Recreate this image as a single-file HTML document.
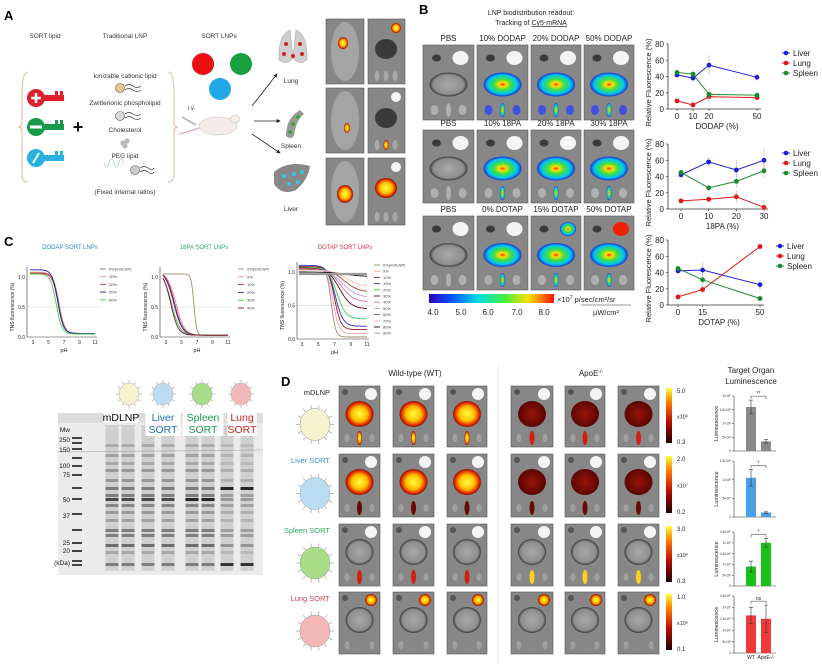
<!DOCTYPE html>
<html><head><meta charset="utf-8"><style>
body{margin:0;background:#fff}
svg{display:block;font-family:"Liberation Sans",Arial,sans-serif}
</style></head><body>
<svg id="fig" width="822" height="664" viewBox="0 0 822 664" xmlns="http://www.w3.org/2000/svg">
<defs>
<radialGradient id="rainbow" cx="50%" cy="50%" r="50%"><stop offset="0" stop-color="#ff2a00"/><stop offset="0.18" stop-color="#ffe000"/><stop offset="0.45" stop-color="#40e040"/><stop offset="0.78" stop-color="#00c8f0"/><stop offset="1" stop-color="#2030d0"/></radialGradient>
<radialGradient id="hot" cx="50%" cy="50%" r="50%"><stop offset="0" stop-color="#ffff40"/><stop offset="0.55" stop-color="#ffc000"/><stop offset="0.85" stop-color="#e83000"/><stop offset="1" stop-color="#801000"/></radialGradient>
<radialGradient id="dark" cx="50%" cy="50%" r="50%"><stop offset="0" stop-color="#9a1408"/><stop offset="1" stop-color="#5a0604"/></radialGradient>
<radialGradient id="grayorg" cx="50%" cy="50%" r="50%"><stop offset="0" stop-color="#a8a8a8"/><stop offset="0.8" stop-color="#8f8f8f"/><stop offset="1" stop-color="#3a3a3a"/></radialGradient>
<linearGradient id="cbar" x1="0" x2="1"><stop offset="0" stop-color="#3000c0"/><stop offset="0.2" stop-color="#0060ff"/><stop offset="0.4" stop-color="#00e0e0"/><stop offset="0.6" stop-color="#40f040"/><stop offset="0.8" stop-color="#ffe000"/><stop offset="1" stop-color="#ff1000"/></linearGradient>
<linearGradient id="hotbar" x1="0" y1="1" x2="0" y2="0"><stop offset="0" stop-color="#200000"/><stop offset="0.4" stop-color="#c01000"/><stop offset="0.75" stop-color="#ff8000"/><stop offset="1" stop-color="#ffff40"/></linearGradient>
<marker id="arr" viewBox="0 0 6 6" refX="5" refY="3" markerWidth="5" markerHeight="5" orient="auto"><path d="M0,0L6,3L0,6z" fill="#222"/></marker>
</defs>

<!-- Panel A -->
<g font-size="6.5" fill="#333">
<text x="4" y="20" font-size="13" font-weight="bold" fill="#000">A</text>
<text x="45" y="38" text-anchor="middle">SORT lipid</text>
<text x="125" y="38" text-anchor="middle">Traditional LNP</text>
<text x="219" y="38" text-anchor="middle">SORT LNPs</text>
<path d="M28,72 Q22,72 22,95 L22,122 Q22,127 18,127 Q22,127 22,132 L22,175 Q22,182 28,182" fill="none" stroke="#e0b890" stroke-width="1"/>
<path d="M168,72 Q174,72 174,95 L174,122 Q174,127 178,127 Q174,127 174,132 L174,175 Q174,182 168,182" fill="none" stroke="#e0b890" stroke-width="1"/>
<g><circle cx="36" cy="98" r="9" fill="#e0202a"/><rect x="44" y="95" width="20" height="6" fill="#e0202a"/><rect x="55" y="91" width="3" height="5" fill="#e0202a"/><rect x="60" y="91" width="3" height="5" fill="#e0202a"/><path d="M31,98h10M36,93v10" stroke="#fff" stroke-width="2.5"/></g>
<g><circle cx="36" cy="127" r="9" fill="#1a9a4a"/><rect x="44" y="124" width="20" height="6" fill="#1a9a4a"/><rect x="55" y="120" width="3" height="5" fill="#1a9a4a"/><rect x="60" y="120" width="3" height="5" fill="#1a9a4a"/><path d="M30,127h12" stroke="#fff" stroke-width="3"/></g>
<g><circle cx="36" cy="158" r="9" fill="#27b0e0"/><rect x="44" y="155" width="20" height="6" fill="#27b0e0"/><rect x="55" y="151" width="3" height="5" fill="#27b0e0"/><rect x="60" y="151" width="3" height="5" fill="#27b0e0"/><path d="M33,163l6,-10" stroke="#fff" stroke-width="2"/></g>
<text x="78" y="133" font-size="18" font-weight="bold" fill="#111" text-anchor="middle">+</text>
<text x="125" y="78" text-anchor="middle">Ionizable cationic lipid</text>
<g><circle cx="120" cy="88" r="4.5" fill="#f4c090" stroke="#555" stroke-width="0.6"/><path d="M125,86 q4,-3 8,0 t8,0 M125,90 q4,-3 8,0 t8,0" fill="none" stroke="#333" stroke-width="0.7"/></g>
<text x="125" y="105" text-anchor="middle">Zwitterionic phospholipid</text>
<g><circle cx="120" cy="116" r="4.5" fill="#d8d8d8" stroke="#555" stroke-width="0.6"/><path d="M125,114 q4,-3 8,0 t8,0 M125,118 q4,-3 8,0 t8,0" fill="none" stroke="#333" stroke-width="0.7"/></g>
<text x="125" y="132" text-anchor="middle">Cholesterol</text>
<g><circle cx="123" cy="143" r="2.6" fill="#bbb"/><circle cx="127" cy="141" r="2.6" fill="#bbb"/><circle cx="125" cy="146" r="2.6" fill="#bbb"/></g>
<text x="125" y="158" text-anchor="middle">PEG lipid</text>
<g><path d="M104,163 q3,8 5,0 t5,0 t5,0 t5,0" fill="none" stroke="#9cd" stroke-width="0.8"/><circle cx="135" cy="170" r="4.5" fill="#ccc" stroke="#555" stroke-width="0.6"/><path d="M140,168 q4,-3 8,0 t6,0 M140,172 q4,-3 8,0 t6,0" fill="none" stroke="#333" stroke-width="0.7"/></g>
<text x="125" y="194" text-anchor="middle">(Fixed internal ratios)</text>
<circle cx="203" cy="64" r="11" fill="#e81010"/>
<circle cx="241" cy="64" r="11" fill="#18a040"/>
<circle cx="220" cy="89" r="11" fill="#20a8e8"/>
<text x="188" y="110" font-size="6">i.v.</text>
<g><ellipse cx="218" cy="126" rx="19" ry="9" fill="#f3ece8" stroke="#bbb" stroke-width="0.5"/><ellipse cx="235" cy="119" rx="5" ry="4" fill="#f3ece8" stroke="#bbb" stroke-width="0.5"/><path d="M199,128 q-10,4 -20,6" stroke="#d9b" fill="none"/><path d="M182,117 l14,8" stroke="#aaa" stroke-width="1.5"/></g>
<path d="M252,106 L277,74" stroke="#222" stroke-width="0.8" marker-end="url(#arr)"/>
<path d="M254,121 L280,121" stroke="#222" stroke-width="0.8" marker-end="url(#arr)"/>
<path d="M252,134 L280,153" stroke="#222" stroke-width="0.8" marker-end="url(#arr)"/>
<g><path d="M290,30 q-12,5 -11,30 q8,6 14,-2 z M296,30 q12,5 11,30 q-8,6 -14,-2 z" fill="#cfcfcf" stroke="#999" stroke-width="0.5"/><circle cx="286" cy="44" r="2" fill="#d02020"/><circle cx="284" cy="54" r="2" fill="#d02020"/><circle cx="300" cy="44" r="2" fill="#d02020"/><circle cx="302" cy="54" r="2" fill="#d02020"/><circle cx="293" cy="56" r="2" fill="#d02020"/></g>
<text x="291" y="83" text-anchor="middle">Lung</text>
<g><path d="M300,110 q-14,8 -14,26 q4,4 8,0 q2,-16 10,-22 z" fill="#999"/><circle cx="298" cy="117" r="1.8" fill="#2a2"/><circle cx="293" cy="124" r="1.8" fill="#2a2"/><circle cx="290" cy="132" r="1.8" fill="#2a2"/></g>
<text x="291" y="148" text-anchor="middle">Spleen</text>
<g><path d="M274,172 q14,-12 36,-6 q-2,14 -14,24 q-14,6 -22,-6 z" fill="#888"/><circle cx="284" cy="176" r="2" fill="#3cd"/><circle cx="294" cy="174" r="2" fill="#3cd"/><circle cx="302" cy="172" r="2" fill="#3cd"/><circle cx="289" cy="184" r="2" fill="#3cd"/><circle cx="298" cy="182" r="2" fill="#3cd"/></g>
<text x="291" y="211" text-anchor="middle">Liver</text>
</g>
<g id="aimgs"></g>

<!-- Panel B -->
<g>
<text x="419" y="14" font-size="13" font-weight="bold">B</text>
<text x="531" y="15" font-size="7" text-anchor="middle" fill="#222">LNP biodistribution readout:</text>
<text x="531" y="25" font-size="7" text-anchor="middle" fill="#222">Tracking of <tspan text-decoration="underline">Cy5-mRNA</tspan></text>
<rect x="429" y="294" width="125" height="9" fill="url(#cbar)"/>
<g font-size="8" fill="#222" text-anchor="middle"><text x="433" y="315">4.0</text><text x="461" y="315">5.0</text><text x="488" y="315">6.0</text><text x="517" y="315">7.0</text><text x="544" y="315">8.0</text></g>
<text x="557" y="302" font-size="7.5" fill="#222">×10<tspan font-size="5" dy="-3">7</tspan><tspan dy="3"> p/sec/cm²/sr</tspan></text>
<line x1="581" y1="305" x2="631" y2="305" stroke="#333" stroke-width="0.6"/>
<text x="606" y="315" font-size="7.5" text-anchor="middle" fill="#222">µW/cm²</text>
</g>
<g id="bimgs"></g>
<g id="bcharts"></g>

<!-- Panel C -->
<g>
<text x="4" y="246" font-size="13" font-weight="bold">C</text>
<text x="70" y="249" font-size="6" text-anchor="middle" fill="#2e86c8">DODAP SORT LNPs</text>
<text x="204" y="249" font-size="6" text-anchor="middle" fill="#2aa860">18PA SORT LNPs</text>
<text x="345" y="249" font-size="6" text-anchor="middle" fill="#e03040">DOTAP SORT LNPs</text>
</g>
<g id="ccharts"></g>

<!-- Gel -->
<g id="gel"></g>

<!-- Panel D -->
<g>
<text x="281" y="386" font-size="13" font-weight="bold">D</text>
<text x="415" y="376" font-size="8" text-anchor="middle" fill="#222">Wild-type (WT)</text>
<text x="591" y="376" font-size="8" text-anchor="middle" fill="#222">ApoE<tspan font-size="5" dy="-3">-/-</tspan></text>
<line x1="498" y1="365" x2="498" y2="664" stroke="#e4e4e4" stroke-width="1"/>
<text x="751" y="373" font-size="8" text-anchor="middle" fill="#222">Target Organ</text>
<text x="751" y="384" font-size="8" text-anchor="middle" fill="#222">Luminescence</text>
</g>
<g id="dimgs"></g>
<g id="dbars"></g>
</svg>
<script>
// ===== Panel B line-chart data =====
const dodapX = [0, 10, 20, 50];
const dodapLiver = [42, 38, 54, 39];
const dodapLung = [10, 5, 15, 14];
const dodapSpleen = [45, 43, 18, 17];
const dodapErr = [3, 3, 12, 4];
const pa18X = [0, 10, 20, 30];
const pa18Liver = [42, 58, 48, 60];
const pa18Lung = [10, 12, 15, 2];
const pa18Spleen = [45, 26, 34, 47];
const pa18Err = [3, 6, 12, 15];
const dotapX = [0, 15, 50];
const dotapLiver = [42, 43, 25];
const dotapLung = [10, 19, 72];
const dotapSpleen = [45, 31, 8];
const dotapErr = [3, 10, 6];
const bYTicks = [0, 20, 40, 60, 80];
const seriesNames = ["Liver", "Lung", "Spleen"];
// ===== Panel C TNS data (fit parameters) =====
const dodapLabels = ["0%(mDLNP)", "10%", "20%", "50%", "80%"];
const dodapPka = [6.35, 6.3, 6.25, 6.2, 6.0];
const dodapTop = [1.07, 1.08, 1.06, 1.12, 1.05];
const dodapBottom = [0.06, 0.06, 0.06, 0.06, 0.05];
const dodapSlope = [1.2, 1.2, 1.2, 1.2, 1.2];
const pa18Labels = ["0%(mDLNP)", "5%", "10%", "20%", "30%", "40%"];
const pa18Pka = [6.6, 4.3, 4.1, 4.0, 3.7, 3.6];
const pa18Top = [1.05, 1.08, 1.1, 1.1, 1.1, 1.1];
const pa18Bottom = [0.03, 0.03, 0.03, 0.03, 0.03, 0.03];
const pa18Slope = [2.5, 0.8, 0.8, 0.8, 0.8, 0.9];
const dotapLabels = ["0%(mDLNP)", "5%", "10%", "15%", "20%", "30%", "40%", "50%", "60%", "70%", "80%", "90%"];
const dotapPka = [6.6, 6.8, 7.0, 7.1, 7.3, 7.6, 7.8, 8.0, 8.2, 8.5, 8.5, 7.0];
const dotapTop = [1.05, 1.08, 1.08, 1.1, 1.07, 1.06, 1.05, 1.04, 1.04, 1.03, 1.0, 0.97];
const dotapBottom = [0.03, 0.08, 0.14, 0.19, 0.3, 0.45, 0.55, 0.62, 0.7, 0.78, 0.93, 0.97];
const dotapSlope = [1.6, 1.2, 1.1, 0.9, 0.8, 0.6, 0.55, 0.5, 0.5, 0.5, 0.4, 1];
const cXTicks = [3, 5, 7, 9, 11];
const cYTicks = [0, 0.5, 1.0];
// ===== Panel D bar data =====
const dGroups = ["WT", "ApoE-/-"];
const dMdlnp = [1.6, 0.35];
const dMdlnpErr = [0.25, 0.06];
const dLiver = [1.05, 0.12];
const dLiverErr = [0.22, 0.02];
const dSpleen = [0.9, 2.0];
const dSpleenErr = [0.25, 0.2];
const dLung = [1.65, 1.5];
const dLungErr = [0.35, 0.6];
const dMdlnpTicks = ["0", "5×10⁴", "1×10⁵", "1.5×10⁵", "2×10⁵"];
const dLiverTicks = ["0", "5×10⁷", "1×10⁸", "1.5×10⁸"];
const dSpleenTicks = ["0", "5×10⁶", "1×10⁷", "1.5×10⁷", "2×10⁷", "2.5×10⁷"];
const dLungTicks = ["0", "5×10⁶", "1×10⁷", "1.5×10⁷", "2×10⁷", "2.5×10⁷"];
const dSig = ["**", "*", "*", "ns"];

const NS = "http://www.w3.org/2000/svg";
function el(tag, parent, attrs) {
  const e = document.createElementNS(NS, tag);
  for (const k in attrs) e.setAttribute(k, attrs[k]);
  parent.appendChild(e);
  return e;
}
function txt(parent, x, y, s, size, anchor, fill) {
  const t = el("text", parent, {x: x, y: y, "font-size": size, "text-anchor": anchor || "start", fill: fill || "#222"});
  t.textContent = s;
  return t;
}

// ---------- imaging tiles ----------
function tileBase(parent, x, y, w, h, name) {
  const g = el("g", parent, {});
  
  
  el("rect", g, {x: x, y: y, width: w, height: h, fill: "#878787", stroke: "#555", "stroke-width": 0.6});
  return g;
}
// Panel A imaging
const aimg = document.getElementById("aimgs");
const aRows = [[19, 84], [88, 153], [158, 225]];
aRows.forEach((r, i) => {
  const g1 = tileBase(aimg, 326, r[0], 38, r[1] - r[0], "whole-body-image");
  el("ellipse", g1, {cx: 345, cy: (r[0] + r[1]) / 2, rx: 14, ry: (r[1] - r[0]) / 2 - 3, fill: "#a4a4a4"});
  const hs = [[343, r[0] + 24, 5, 6], [347, r[0] + 40, 3, 5], [345, r[0] + 36, 8, 9]][i];
  el("ellipse", g1, {cx: hs[0], cy: hs[1], rx: hs[2], ry: hs[3], fill: "url(#hot)"});
  const g2 = tileBase(aimg, 368, r[0], 37, r[1] - r[0], "organ-image");
  el("ellipse", g2, {cx: 386, cy: r[0] + 30, rx: 11, ry: 10, fill: i === 2 ? "url(#hot)" : "#3a3a3a"});
  el("ellipse", g2, {cx: 396, cy: r[0] + 9, rx: 5, ry: 5, fill: i === 0 ? "url(#hot)" : "#f4f4f4"});
  [377, 386, 395].forEach((kx, j) => el("ellipse", g2, {cx: kx, cy: r[1] - 8, rx: 2.5, ry: 5, fill: (i === 1 && j === 1) ? "url(#hot)" : "#aaa"}));
});

// Panel B imaging
const bimg = document.getElementById("bimgs");
const bCols = [[423, 474], [477, 528], [531, 581], [584, 634]];
const bRows = [[45, 120], [130, 203], [216, 290]];
const bHeaders = [["PBS", "10% DODAP", "20% DODAP", "50% DODAP"], ["PBS", "10% 18PA", "20% 18PA", "30% 18PA"], ["PBS", "0% DOTAP", "15% DOTAP", "50% DOTAP"]];
bRows.forEach((r, i) => {
  bCols.forEach((c, j) => {
    const h = txt(bimg, (c[0] + c[1]) / 2, r[0] - 4, bHeaders[i][j], 8, "middle");
    
    
    const g = tileBase(bimg, c[0], r[0], c[1] - c[0], r[1] - r[0], "biodistribution-image");
    const cx = (c[0] + c[1]) / 2, cy = (r[0] + r[1]) / 2 + 2;
    el("ellipse", g, {cx: cx, cy: cy, rx: 19, ry: 12, fill: j === 0 ? "url(#grayorg)" : "url(#rainbow)"});
    el("ellipse", g, {cx: cx + 12, cy: r[0] + 13, rx: 8, ry: 7, fill: (i === 2 && j >= 2) ? (j === 3 ? "#f02000" : "url(#rainbow)") : "#f4f4f4"});
    el("ellipse", g, {cx: cx - 12, cy: r[0] + 13, rx: 4.5, ry: 3.5, fill: "#3a3a3a"});
    [-14, 0, 14].forEach((dx, k) => el("ellipse", g, {cx: cx + dx, cy: r[1] - 10, rx: k === 1 ? 2.5 : 4, ry: k === 1 ? 7 : 5, fill: (j > 0 && k === 1) ? "url(#rainbow)" : (j > 0 && i === 0 ? "#4050e0" : "#b0b0b0")}));
  });
});

// Panel B line charts
const bc = document.getElementById("bcharts");
const sColors = ["#1f1fd8", "#e01818", "#1a8a2a"];
function lineChart(cfg) {
  const g = el("g", bc, {});
  
  
  const xs = v => cfg.x0 + (v - cfg.xmin) / (cfg.xmax - cfg.xmin) * (cfg.x1 - cfg.x0);
  const ys = v => cfg.yb - v / 80 * (cfg.yb - cfg.yt);
  el("line", g, {x1: cfg.ax, y1: cfg.yt, x2: cfg.ax, y2: cfg.yb, stroke: "#333", "stroke-width": 0.8});
  el("line", g, {x1: cfg.ax, y1: cfg.yb, x2: cfg.x1 + 4, y2: cfg.yb, stroke: "#333", "stroke-width": 0.8});
  bYTicks.forEach(t => {
    el("line", g, {x1: cfg.ax - 2, y1: ys(t), x2: cfg.ax, y2: ys(t), stroke: "#333", "stroke-width": 0.7});
    const tl = txt(g, cfg.ax - 4, ys(t) + 3, String(t), 8, "end");
    
    
  });
  cfg.xv.forEach(t => {
    el("line", g, {x1: xs(t), y1: cfg.yb, x2: xs(t), y2: cfg.yb + 2, stroke: "#333", "stroke-width": 0.7});
    const tl = txt(g, xs(t), cfg.yb + 10, String(t), 8, "middle");
    
    
  });
  const xl = txt(g, (cfg.x0 + cfg.x1) / 2, cfg.yb + 20, cfg.xlabel, 8, "middle");
  
  
  const yl = txt(g, 0, 0, "Relative Fluorescence (%)", 7.5, "middle");
  yl.setAttribute("transform", "translate(" + (cfg.ax - 17) + "," + ((cfg.yt + cfg.yb) / 2 + 6) + ") rotate(-90)");
  
  
  [cfg.s0, cfg.s1, cfg.s2].forEach((s, k) => {
    const pts = s.map((v, i) => xs(cfg.xv[i]) + "," + ys(v)).join(" ");
    s.forEach((v, i) => {
      const e = cfg.err[i] * (k === 0 ? 1 : 0.6);
      el("line", g, {x1: xs(cfg.xv[i]), y1: ys(v - e), x2: xs(cfg.xv[i]), y2: ys(v + e), stroke: "#bbb", "stroke-width": 0.7});
    });
    const pl = el("polyline", g, {points: pts, fill: "none", stroke: sColors[k], "stroke-width": 1});
    
    
    s.forEach((v, i) => {
      const c = el("circle", g, {cx: xs(cfg.xv[i]), cy: ys(v), r: 2.4, fill: sColors[k]});
      
      
    });
    const lg = el("g", g, {});
    
    
    el("line", lg, {x1: cfg.lx - 4, y1: cfg.ly + k * 10, x2: cfg.lx + 4, y2: cfg.ly + k * 10, stroke: sColors[k]});
    el("circle", lg, {cx: cfg.lx, cy: cfg.ly + k * 10, r: 2.3, fill: sColors[k]});
    txt(lg, cfg.lx + 7, cfg.ly + k * 10 + 3, seriesNames[k], 8, "start");
  });
}
lineChart({name: "dodap-biodistribution-chart", ax: 668, x0: 677, x1: 757, xmin: 0, xmax: 50, yt: 44, yb: 109, xv: dodapX, s0: dodapLiver, s1: dodapLung, s2: dodapSpleen, err: dodapErr, xlabel: "DODAP (%)", lx: 786, ly: 53});
lineChart({name: "18pa-biodistribution-chart", ax: 668, x0: 681, x1: 764, xmin: 0, xmax: 30, yt: 144, yb: 209, xv: pa18X, s0: pa18Liver, s1: pa18Lung, s2: pa18Spleen, err: pa18Err, xlabel: "18PA  (%)", lx: 786, ly: 153});
lineChart({name: "dotap-biodistribution-chart", ax: 668, x0: 678, x1: 760, xmin: 0, xmax: 50, yt: 240, yb: 305, xv: dotapX, s0: dotapLiver, s1: dotapLung, s2: dotapSpleen, err: dotapErr, xlabel: "DOTAP (%)", lx: 780, ly: 246});

// Panel C TNS charts
const cc = document.getElementById("ccharts");
const dodapColors = ["#8a7a5a", "#f08a8a", "#d03050", "#1a1aa0", "#40d040"];
const pa18Colors = ["#a09070", "#f09090", "#d02040", "#2a2ab0", "#30d050", "#801020"];
const dotapColors = ["#9a8a6a", "#f5a0a0", "#a01020", "#2030d0", "#30d050", "#700010", "#d070a0", "#c0a0e0", "#b04040", "#f8b8b0", "#111", "#999"];
function tnsChart(cfg) {
  const g = el("g", cc, {});
  
  
  const xs = v => cfg.x3 + (v - 3) / 8 * (cfg.x11 - cfg.x3);
  const ys = v => cfg.y0 - v * (cfg.y0 - cfg.y1);
  const xr = cfg.x11 + 2;
  el("line", g, {x1: cfg.ax, y1: cfg.y1 - 10, x2: cfg.ax, y2: cfg.y0, stroke: "#333", "stroke-width": 0.6});
  el("line", g, {x1: cfg.ax, y1: cfg.y0, x2: xr, y2: cfg.y0, stroke: "#333", "stroke-width": 0.6});
  el("line", g, {x1: cfg.ax, y1: ys(0.5), x2: xr + 2, y2: ys(0.5), stroke: "#ccc", "stroke-width": 0.6});
  cYTicks.forEach(t => {
    const tl = txt(g, cfg.ax - 2, ys(t) + 2, t.toFixed(1), 5, "end");
    
    
  });
  cXTicks.forEach(t => {
    const tl = txt(g, xs(t), cfg.y0 + 7, String(t), 5, "middle");
    
    
  });
  const xt = txt(g, (cfg.x3 + cfg.x11) / 2, cfg.y0 + 15, "pH", 5.5, "middle");
  
  
  const yt = txt(g, 0, 0, "TNS fluorescence (%)", 5, "middle");
  yt.setAttribute("transform", "translate(" + (cfg.ax - 13) + "," + ((cfg.y0 + cfg.y1) / 2) + ") rotate(-90)");
  
  
  cfg.labels.forEach((lab, k) => {
    let d = "";
    for (let p = 2.6; p <= 11.01; p += 0.1) {
      const v = cfg.bottom[k] + (cfg.top[k] - cfg.bottom[k]) / (1 + Math.pow(10, (p - cfg.pka[k]) * cfg.slope[k]));
      d += (d ? "L" : "M") + xs(p).toFixed(1) + "," + ys(v).toFixed(1);
    }
    const path = el("path", g, {d: d, fill: "none", stroke: cfg.colors[k], "stroke-width": (cfg.thick && k === cfg.labels.length - 1) ? 2.2 : 0.9});
    
    
    const lg = el("g", g, {});
    
    
    const ly = cfg.ly + k * cfg.ls;
    el("line", lg, {x1: cfg.lx, y1: ly, x2: cfg.lx + 6, y2: ly, stroke: cfg.colors[k], "stroke-width": 0.9});
    txt(lg, cfg.lx + 9, ly + 1.5, lab, 4, "start", "#444");
  });
}
tnsChart({name: "dodap-tns-chart", ax: 27, x3: 33, x11: 95, y0: 337, y1: 277, labels: dodapLabels, pka: dodapPka, top: dodapTop, bottom: dodapBottom, slope: dodapSlope, colors: dodapColors, lx: 100, ly: 269, ls: 7.7});
tnsChart({name: "18pa-tns-chart", ax: 160, x3: 166, x11: 228, y0: 337, y1: 277, labels: pa18Labels, pka: pa18Pka, top: pa18Top, bottom: pa18Bottom, slope: pa18Slope, colors: pa18Colors, lx: 238, ly: 269, ls: 7.8});
tnsChart({name: "dotap-tns-chart", ax: 297, x3: 302, x11: 367, y0: 339, y1: 272, labels: dotapLabels, pka: dotapPka, top: dotapTop, bottom: dotapBottom, slope: dotapSlope, colors: dotapColors, lx: 374, ly: 265, ls: 6.2, thick: true});

// Gel
const gel = document.getElementById("gel");
const sphereX = [129, 163, 202, 241];
const sphereFill = ["#f6f2d0", "#bcdcf2", "#a8dc88", "#f2b8b8"];
sphereX.forEach((x, i) => {
  const s = el("g", gel, {});
  
  
  for (let a = 0; a < 12; a++) {
    const an = a * Math.PI / 6;
    el("line", s, {x1: x + 10 * Math.cos(an), y1: 394 + 11 * Math.sin(an), x2: x + 13 * Math.cos(an), y2: 394 + 14 * Math.sin(an), stroke: "#999", "stroke-width": 0.6});
  }
  el("ellipse", s, {cx: x, cy: 394, rx: 10, ry: 11, fill: sphereFill[i], stroke: "#aaa", "stroke-width": 0.5});
});
el("rect", gel, {x: 58, y: 413, width: 205, height: 162, fill: "#ebebeb"});
el("rect", gel, {x: 58, y: 413, width: 205, height: 10, fill: "#dcdcdc"});
el("line", gel, {x1: 58, y1: 452, x2: 263, y2: 450, stroke: "#bbb", "stroke-width": 0.8});
const ladderBands = [438, 443, 449, 458, 466, 475, 488, 499, 514, 530, 543, 551, 561, 565];
ladderBands.forEach(b => el("rect", gel, {x: 72, y: b - 1, width: 10, height: 2, fill: "#444"}));
const laneX = [112, 128, 148, 168, 192, 208, 227, 247];
const laneBands = [[445, 0.2], [455, 0.25], [463, 0.2], [470, 0.3], [480, 0.3], [488, 0.45], [495, 0.45], [499, 0.75], [505, 0.4], [512, 0.3], [520, 0.25], [530, 0.45], [535, 0.45], [545, 0.55], [552, 0.2], [564, 0.45]];
laneX.forEach((x, i) => {
  const l = el("g", gel, {});
  
  
  el("rect", l, {x: x - 6.5, y: 425, width: 13, height: 146, fill: "#9a9a9a", opacity: 0.35});
  laneBands.forEach(b => {
    let op = b[1];
    if (i >= 6) op = (b[0] === 499 ? 0.3 : b[0] === 488 ? 0.95 : b[0] === 564 ? 0.85 : b[1] * 0.6);
    if ((i === 4 || i === 5) && b[0] === 499) op = 0.95;
    el("rect", l, {x: x - 6.5, y: b[0] - 1, width: 13, height: 3, fill: "#1a1a1a", opacity: op});
  });
});
const laneLab = [["mDLNP", "", 121, "#000"], ["Liver", "SORT", 163, "#1e6eb4"], ["Spleen", "SORT", 203, "#1a9a4a"], ["Lung", "SORT", 242, "#d02020"]];
laneLab.forEach(L => {
  const w = L[0].length * 5.8 + 6;
  el("rect", gel, {x: L[2] - w / 2, y: 409, width: w, height: L[1] ? 27 : 14, fill: "#fff"});
  const t1 = txt(gel, L[2], 421, L[0], 10.5, "middle", L[3]);
  
  
  if (L[1]) {
    const t2 = txt(gel, L[2], 433, L[1], 10.5, "middle", L[3]);
    
    
  }
});
const mwLabels = ["Mw", "250", "150", "100", "75", "50", "37", "25", "20", "(kDa)"];
const mwY = [432, 442, 452, 468, 477, 502, 518, 545, 553, 565];
mwLabels.forEach((m, i) => {
  const t = txt(gel, 70, mwY[i], m, 6.5, "end", "#111");
  
  
});

// Panel D imaging
const dimg = document.getElementById("dimgs");
const dCols = [[339, 380], [393, 434], [447, 487], [511, 553], [565, 605], [618, 659]];
const dRows = [[386, 447], [454, 517], [524, 586], [592, 654]];
const dRowNames = [["mDLNP", "#222", "#f6f2d0"], ["Liver SORT", "#3a96d0", "#bcdcf2"], ["Spleen SORT", "#2aaa60", "#a8dc88"], ["Lung SORT", "#d84050", "#f2b8b8"]];
const cbTop = ["5.0", "2.0", "3.0", "1.0"];
const cbMid = ["x10⁶", "x10⁷", "x10⁶", "x10⁶"];
const cbBot = ["0.3", "0.2", "0.3", "0.1"];
dRows.forEach((r, i) => {
  const cy = (r[0] + r[1]) / 2;
  const rl = txt(dimg, 330, r[0] + 9, dRowNames[i][0], 7.5, "end", dRowNames[i][1]);
  
  
  const sp = el("g", dimg, {});
  
  
  for (let a = 0; a < 14; a++) {
    const an = a * Math.PI / 7;
    el("line", sp, {x1: 315 + 15 * Math.cos(an), y1: cy + 8 + 16 * Math.sin(an), x2: 315 + 19 * Math.cos(an), y2: cy + 8 + 20 * Math.sin(an), stroke: "#999", "stroke-width": 0.6});
  }
  el("ellipse", sp, {cx: 315, cy: cy + 8, rx: 15, ry: 16, fill: dRowNames[i][2], stroke: "#999", "stroke-width": 0.5});
  dCols.forEach((c, j) => {
    const g = tileBase(dimg, c[0], r[0], c[1] - c[0], r[1] - r[0], "luminescence-image");
    const cx = (c[0] + c[1]) / 2;
    const wt = j < 3;
    let organ = "url(#grayorg)";
    if (i === 0) organ = wt ? "url(#hot)" : "url(#dark)";
    if (i === 1) organ = wt ? "url(#hot)" : "url(#dark)";
    el("ellipse", g, {cx: cx, cy: r[0] + 28, rx: 14, ry: 13, fill: organ});
    el("ellipse", g, {cx: c[1] - 9, cy: r[0] + 8, rx: 6, ry: 6, fill: i === 3 ? "url(#hot)" : "#f4f4f4"});
    el("circle", g, {cx: c[0] + 6, cy: r[0] + 6, r: 3, fill: "#555"});
    const spl = (i === 0 || i === 2) ? (wt && i === 0 ? "url(#hot)" : (i === 2 && !wt ? "#ffd020" : "#d02010")) : (i === 1 ? "#6a0a08" : "#888");
    el("ellipse", g, {cx: c[0] + 8, cy: r[1] - 9, rx: 2.5, ry: 4, fill: "#a0a0a0"});
    el("ellipse", g, {cx: c[1] - 8, cy: r[1] - 9, rx: 2.5, ry: 4, fill: "#a0a0a0"});
    el("ellipse", g, {cx: cx, cy: r[1] - 9, rx: 2.5, ry: 7, fill: spl});
  });
  const cb = el("rect", dimg, {x: 666, y: r[0] + 2, width: 6, height: r[1] - r[0] - 6, fill: "url(#hotbar)"});
  
  
  txt(dimg, 677, r[0] + 7, cbTop[i], 6, "start");
  txt(dimg, 677, cy + 2, cbMid[i], 5.5, "start");
  txt(dimg, 677, r[1] - 3, cbBot[i], 6, "start");
});

// Panel D bar charts
const db = document.getElementById("dbars");
const barColors = ["#8a8a8a", "#4a9ee8", "#18c018", "#f03a3a"];
function barChart(cfg) {
  const g = el("g", db, {});
  
  
  const n = cfg.ticks.length - 1;
  const ys = v => cfg.yb - v / (n * cfg.step) * (cfg.yb - cfg.yt);
  const xc = [751, 766];
  el("line", g, {x1: 734, y1: cfg.yt, x2: 734, y2: cfg.yb, stroke: "#333", "stroke-width": 0.6});
  el("line", g, {x1: 734, y1: cfg.yb, x2: 776, y2: cfg.yb, stroke: "#333", "stroke-width": 0.6});
  cfg.ticks.forEach((t, i) => {
    const y = ys(i * cfg.step);
    el("line", g, {x1: 732, y1: y, x2: 734, y2: y, stroke: "#333", "stroke-width": 0.5});
    const tl = txt(g, 731, y + 1.2, t, 3.2, "end");
    
    
  });
  const yl = txt(g, 0, 0, "Luminescence", 5.5, "middle");
  yl.setAttribute("transform", "translate(718," + ((cfg.yt + cfg.yb) / 2) + ") rotate(-90)");
  
  
  cfg.vals.forEach((v, i) => {
    const b = el("rect", g, {x: xc[i] - 5, y: ys(v), width: 10, height: cfg.yb - ys(v), fill: cfg.color});
    
    
    el("path", g, {d: "M" + xc[i] + "," + ys(v - cfg.err[i]) + "V" + ys(v + cfg.err[i]) + "M" + (xc[i] - 2) + "," + ys(v + cfg.err[i]) + "h4M" + (xc[i] - 2) + "," + ys(v - cfg.err[i]) + "h4", stroke: "#333", "stroke-width": 0.6, fill: "none"});
  });
  const top = Math.min(ys(cfg.vals[0] + cfg.err[0]), ys(cfg.vals[1] + cfg.err[1])) - 4;
  el("path", g, {d: "M751," + (top + 3) + "V" + top + "H766V" + (top + 3), stroke: "#333", "stroke-width": 0.5, fill: "none"});
  const s = txt(g, 758.5, top - 1, cfg.sig, 5, "middle");
  
  
  if (cfg.xlabels) {
    dGroups.forEach((gname, i) => {
      const t = txt(g, xc[i], cfg.yb + 6, gname, 5, "middle");
      
      
    });
  }
}
barChart({name: "mdlnp-luminescence-bars", yt: 396, yb: 451, ticks: dMdlnpTicks, step: 0.5, vals: dMdlnp, err: dMdlnpErr, color: barColors[0], sig: dSig[0]});
barChart({name: "liver-sort-luminescence-bars", yt: 461, yb: 517, ticks: dLiverTicks, step: 0.5, vals: dLiver, err: dLiverErr, color: barColors[1], sig: dSig[1]});
barChart({name: "spleen-sort-luminescence-bars", yt: 532, yb: 586, ticks: dSpleenTicks, step: 0.5, vals: dSpleen, err: dSpleenErr, color: barColors[2], sig: dSig[2]});
barChart({name: "lung-sort-luminescence-bars", yt: 596, yb: 653, ticks: dLungTicks, step: 0.5, vals: dLung, err: dLungErr, color: barColors[3], sig: dSig[3], xlabels: true});
</script>
</body></html>
